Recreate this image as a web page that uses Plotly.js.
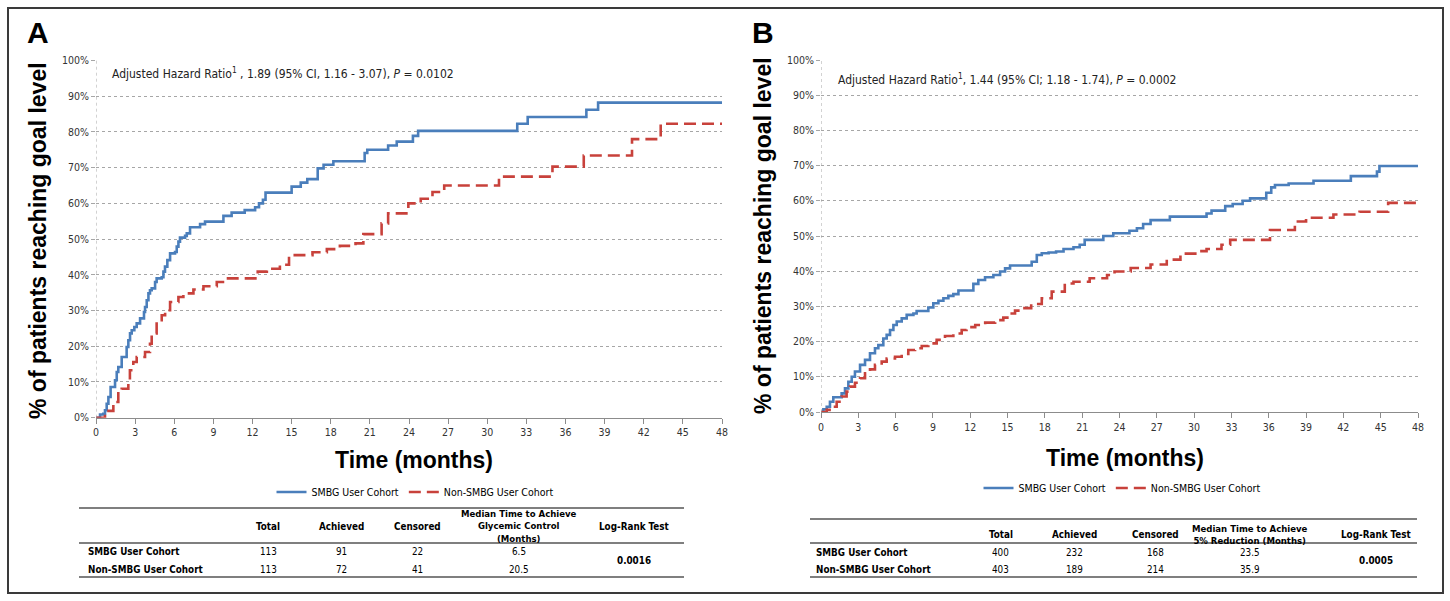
<!DOCTYPE html>
<html>
<head>
<meta charset="utf-8">
<script src="https://cdn.plot.ly/plotly-3.0.1.min.js"></script>
<style>html,body{margin:0;padding:0;background:#fff;}#chart{width:1450px;height:601px;}</style>
</head>
<body>
<div id="chart"></div>
<script>
// ---------- DATA ----------
var seriesNames = ["SMBG User Cohort", "Non-SMBG User Cohort"];
var xTicks = [0,3,6,9,12,15,18,21,24,27,30,33,36,39,42,45,48];
var yTicks = [0,10,20,30,40,50,60,70,80,90,100];
var yTickLabels = ["0%","10%","20%","30%","40%","50%","60%","70%","80%","90%","100%"];

// Panel A: goal level (glycemic control)
var monthsA_smbg = [0,0.31,0.56,0.69,0.82,0.95,1.12,1.46,1.59,1.71,1.97,2.35,2.48,2.61,2.74,2.94,3.12,3.38,3.68,3.76,3.89,4.02,4.14,4.27,4.53,4.65,5.04,5.17,5.29,5.47,5.68,6.06,6.19,6.32,6.44,6.83,6.96,7.21,7.98,8.36,9.77,10.4,11.4,12.2,12.5,12.8,13.0,15.0,15.7,16.2,17.0,17.45,18.2,20.6,20.8,22.4,23.06,24.3,24.7,32.3,33.1,37.6,38.5,48];
var pctA_smbg    = [0,0.9,1.1,2.1,3.9,5.8,8.6,10.5,12.8,14.2,17.0,19.8,21.7,23.6,24.5,25.4,26.4,27.8,29.6,31.0,32.9,34.8,35.7,36.2,38.0,39.0,39.3,40.9,42.3,44.1,46.0,46.4,47.9,49.3,50.4,50.9,51.6,53.3,54.2,54.9,56.5,57.4,58.1,58.9,60.0,61.0,63.0,64.7,65.8,66.8,69.8,70.8,71.8,74.1,75.0,76.2,77.3,78.9,80.3,82.3,84.2,86.2,88.2,88.2];
var monthsA_non  = [0,0.69,1.33,1.71,1.97,2.48,2.6,2.86,3.12,3.76,4.14,4.27,4.65,5.04,5.3,5.68,6.32,6.7,7.47,8.24,9.26,10.0,12.4,13.1,14.1,14.8,16.6,17.7,18.7,19.9,20.5,21.9,22.4,23.95,24.9,25.8,26.7,30.9,35.0,37.4,41.1,43.3,48];
var pctA_non     = [0,1.9,4.4,7.2,8.1,10.0,13.3,15.6,17.0,18.4,20.7,23.6,27.3,28.7,30.1,32.4,33.8,34.8,35.9,36.8,38.0,39.0,40.9,41.7,42.8,45.5,46.3,47.2,48.1,48.8,51.4,54.4,57.2,60.0,61.3,63.2,65.0,67.5,70.3,73.4,78.0,82.3,82.3];

// Panel B: 5% reduction
var monthsB_smbg = [0,0.19,0.46,0.72,0.99,1.66,1.93,2.2,2.47,2.73,3.14,3.54,3.94,4.34,4.61,5.01,5.28,5.55,5.82,6.09,6.49,6.89,7.43,7.69,8.63,9.03,9.44,9.84,10.24,10.64,11.05,12.25,12.65,13.19,13.86,14.4,14.8,15.2,16.94,17.35,17.75,18.3,18.9,19.5,20.3,20.8,21.2,22.7,23.5,24.8,25.4,25.9,26.5,28.05,31.0,31.4,32.5,33.1,33.9,34.5,35.8,36.2,36.5,37.6,39.6,42.6,44.7,44.9,48];
var pctB_smbg    = [0,0.8,1.5,2.9,4.2,5.3,6.7,8.6,10.0,11.5,13.4,14.8,16.7,18.1,19.0,20.9,21.9,23.3,24.7,25.7,26.6,27.6,28.0,28.7,29.7,30.9,31.6,32.3,33.0,33.5,34.5,36.4,37.5,38.3,38.9,39.9,40.8,41.6,42.7,44.6,45.1,45.3,45.6,46.3,46.8,47.5,48.9,50.0,50.8,51.5,52.2,53.4,54.5,55.5,56.4,57.2,58.5,59.1,60.0,60.7,62.3,63.8,64.5,64.9,65.7,67.0,68.3,69.9,69.9];
var monthsB_non  = [0,0.46,0.86,1.26,1.66,2.06,2.33,2.73,3.14,3.54,3.94,4.34,4.88,5.28,5.95,6.49,7.02,7.56,8.1,8.63,9.3,9.97,10.64,11.31,11.7,12.4,13.2,14.0,14.66,15.2,15.6,16.1,16.9,17.75,18.55,19.6,20.3,21.6,23.0,23.6,24.9,26.5,27.8,28.9,30.2,31.0,32.2,32.9,36.1,38.1,39.0,41.2,43.3,45.6,48];
var pctB_non     = [0,0.6,1.5,2.9,4.4,5.8,7.2,8.3,9.6,11.0,12.1,13.4,14.3,15.2,15.7,16.5,17.6,18.1,18.75,19.5,20.5,21.6,22.3,23.3,24.1,24.7,25.4,26.1,26.8,28.0,28.8,29.5,30.7,32.3,34.2,36.5,37.0,38.0,38.9,39.9,40.9,41.9,43.3,45.0,45.7,46.3,47.5,48.9,51.7,54.1,55.2,56.1,56.9,59.4,59.4];

// Text
var panelLabels = ["A", "B"];
var hrTextA = "Adjusted Hazard Ratio<sup>1</sup> , 1.89 (95% CI, 1.16 - 3.07), <i>P</i> = 0.0102";
var hrTextB = "Adjusted Hazard Ratio<sup>1</sup>, 1.44 (95% CI; 1.18 - 1.74), <i>P</i> = 0.0002";
var yTitle = "% of patients reaching goal level";
var xTitle = "Time (months)";
var tableCols = ["Total", "Achieved", "Censored"];
var medianHeaderA = "Median Time to Achieve<br>Glycemic Control<br>(Months)";
var medianHeaderB = "Median Time to Achieve<br>5% Reduction (Months)";
var logRankHeader = "Log-Rank Test";
var tableA_smbg = ["113", "91", "22", "6.5"];
var tableA_non  = ["113", "72", "41", "20.5"];
var tableB_smbg = ["400", "232", "168", "23.5"];
var tableB_non  = ["403", "189", "214", "35.9"];
var logRankA = "0.0016";
var logRankB = "0.0005";

// ---------- STYLE / LAYOUT ----------
var W = 1450, H = 601;
function px(x){ return x / W; }
function py(y){ return 1 - y / H; }
var NARROW = "DejaVu Sans Condensed, Liberation Sans, sans-serif";
var BOLD = "Liberation Sans, Arial, sans-serif";
var BLUE = "#4a7ebb", RED = "#c8413b";

function stepTrace(x, y, name, color, dash, xa, ya, leg) {
  return {x: x, y: y, type: "scatter", mode: "lines", name: name,
    line: {shape: "hv", color: color, width: 2.6, dash: dash},
    xaxis: xa, yaxis: ya, legend: leg, showlegend: true, hoverinfo: "skip"};
}
var DASH = "12px,6px";
var traces = [
  stepTrace(monthsA_smbg, pctA_smbg, seriesNames[0], BLUE, "solid", "x", "y", "legend"),
  stepTrace(monthsA_non, pctA_non, seriesNames[1], RED, DASH, "x", "y", "legend"),
  stepTrace(monthsB_smbg, pctB_smbg, seriesNames[0], BLUE, "solid", "x2", "y2", "legend2"),
  stepTrace(monthsB_non, pctB_non, seriesNames[1], RED, DASH, "x2", "y2", "legend2")
];

function xAxis(dom, anchor) {
  return {domain: dom, anchor: anchor, range: [0, 48], tickvals: xTicks, ticktext: xTicks.map(String),
    showgrid: false, zeroline: false, showline: true, linecolor: "#8c8c8c", linewidth: 1,
    ticks: "outside", ticklen: 5, tickcolor: "#8c8c8c",
    tickfont: {family: NARROW, size: 10.5, color: "#333"}, fixedrange: true};
}
function yAxis(dom, anchor) {
  return {domain: dom, anchor: anchor, range: [0, 100], tickvals: yTicks, ticktext: yTickLabels,
    showgrid: true, gridcolor: "#a6a6a6", griddash: "dot", gridwidth: 1, zeroline: false,
    showline: false, ticks: "outside", ticklen: 4, tickcolor: "#a6a6a6",
    tickfont: {family: NARROW, size: 10.5, color: "#333"}, fixedrange: true};
}

var ann = [];
function txt(x, y, text, size, opts) {
  var a = {xref: "paper", yref: "paper", x: px(x), y: py(y), text: text, showarrow: false,
    font: {family: (opts && opts.family) || NARROW, size: size, color: (opts && opts.color) || "#000"},
    xanchor: (opts && opts.xanchor) || "center", yanchor: (opts && opts.yanchor) || "middle"};
  if (opts && opts.angle !== undefined) a.textangle = opts.angle;
  ann.push(a);
}
// panel labels
txt(38, 33, "<b>" + panelLabels[0] + "</b>", 30, {family: BOLD});
txt(763, 33, "<b>" + panelLabels[1] + "</b>", 30, {family: BOLD});
// hazard ratio texts
txt(110, 73, hrTextA, 12, {xanchor: "left", color: "#222"});
txt(836, 79, hrTextB, 12, {xanchor: "left", color: "#222"});
// axis titles
txt(38, 241, "<b>" + yTitle + "</b>", 23, {family: BOLD, angle: -90});
txt(763, 236, "<b>" + yTitle + "</b>", 23, {family: BOLD, angle: -90});
txt(414, 460, "<b>" + xTitle + "</b>", 23, {family: BOLD});
txt(1125, 458, "<b>" + xTitle + "</b>", 23, {family: BOLD});

// tables
var shapes = [];
function hline(x0, x1, y) {
  shapes.push({type: "line", xref: "paper", yref: "paper", x0: px(x0), x1: px(x1), y0: py(y), y1: py(y),
    line: {color: "#7f7f7f", width: 2}});
}
var TS = 9.8;
function table(x0, x1, yTop, yHead, yBot, colX, headY, medHeader, medY, rowY, rowLabelX, r1, r2, lr) {
  hline(x0, x1, yTop); hline(x0, x1, yHead); hline(x0, x1, yBot);
  for (var i = 0; i < 3; i++) txt(colX[i], headY, "<b>" + tableCols[i] + "</b>", TS);
  txt(colX[3], medY, "<b>" + medHeader + "</b>", TS - 0.3);
  txt(colX[4], headY, "<b>" + logRankHeader + "</b>", TS);
  txt(rowLabelX, rowY[0], "<b>" + seriesNames[0] + "</b>", TS, {xanchor: "left"});
  txt(rowLabelX, rowY[1], "<b>" + seriesNames[1] + "</b>", TS, {xanchor: "left"});
  for (var j = 0; j < 4; j++) {
    txt(colX[j], rowY[0], r1[j], TS);
    txt(colX[j], rowY[1], r2[j], TS);
  }
  txt(colX[4], (rowY[0] + rowY[1]) / 2, "<b>" + lr + "</b>", TS);
}
table(79, 684, 508, 543, 577, [268, 341, 417, 519, 634], 526, medianHeaderA, 525.5, [551, 569], 86, tableA_smbg, tableA_non, logRankA);
table(810, 1417, 519, 543, 577, [1001, 1074, 1155, 1250, 1376], 534, medianHeaderB, 534, [552, 569], 814, tableB_smbg, tableB_non, logRankB);

// dotted left axis lines
shapes.push({type: "line", xref: "x", yref: "y domain", x0: 0, x1: 0, y0: 0, y1: 1, line: {color: "#a6a6a6", width: 1, dash: "dot"}});
shapes.push({type: "line", xref: "x2", yref: "y2 domain", x0: 0, x1: 0, y0: 0, y1: 1, line: {color: "#a6a6a6", width: 1, dash: "dot"}});
// outer frame
shapes.push({type: "rect", xref: "paper", yref: "paper", x0: px(8), x1: px(1443), y0: py(8), y1: py(593),
  line: {color: "#3a3a3a", width: 2}, fillcolor: "rgba(0,0,0,0)"});

var layout = {
  width: W, height: H, margin: {l: 0, r: 0, t: 0, b: 0},
  paper_bgcolor: "#fff", plot_bgcolor: "#fff",
  xaxis: xAxis([px(96), px(722)], "y"),
  yaxis: yAxis([py(417.7), py(60.5)], "x"),
  xaxis2: xAxis([px(821), px(1418)], "y2"),
  yaxis2: yAxis([py(412), py(60)], "x2"),
  legend: {orientation: "h", x: px(415), y: py(492), xanchor: "center", yanchor: "middle",
    font: {family: NARROW, size: 10.5, color: "#000"}, itemwidth: 30, bgcolor: "rgba(0,0,0,0)"},
  legend2: {orientation: "h", x: px(1122), y: py(488), xanchor: "center", yanchor: "middle",
    font: {family: NARROW, size: 10.5, color: "#000"}, itemwidth: 30, bgcolor: "rgba(0,0,0,0)"},
  annotations: ann, shapes: shapes, showlegend: true
};
Plotly.newPlot("chart", traces, layout, {staticPlot: true, displayModeBar: false});
</script>
</body>
</html>
